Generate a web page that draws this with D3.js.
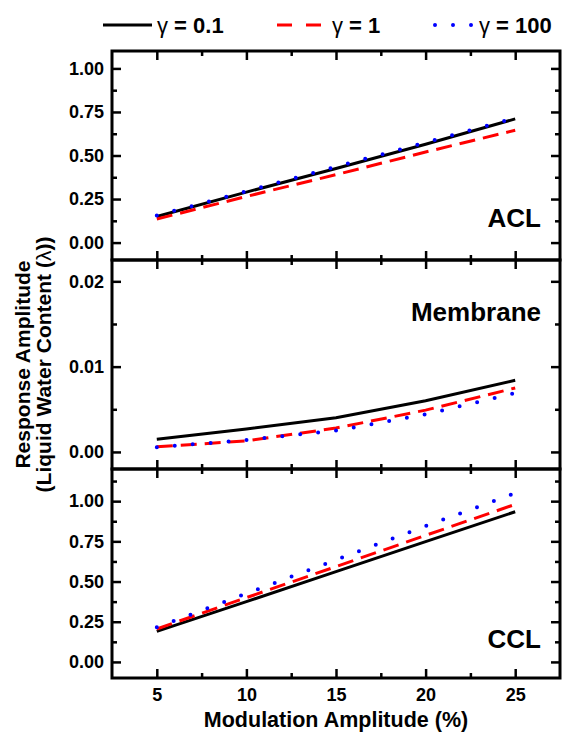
<!DOCTYPE html>
<html>
<head>
<meta charset="utf-8">
<script src="https://cdn.jsdelivr.net/npm/d3@7"></script>
<style>
body { margin: 0; background: #fff; }
text { font-family: "Liberation Sans", Arial, sans-serif; font-weight: bold; fill: #000; }
</style>
</head>
<body>
<svg id="chart" width="563" height="734"></svg>
<script>
// modulation amplitude (%) on x
var modulation = [5, 10, 15, 20, 25];

// ACL response
var aclG01  = [0.150, 0.290, 0.425, 0.565, 0.710];
var aclG1   = [0.135, 0.265, 0.390, 0.520, 0.645];
var aclG100 = [0.155, 0.295, 0.435, 0.575, 0.715];

// membrane response
var memG01  = [0.0015, 0.0027, 0.0040, 0.0060, 0.0084];
var memG1   = [0.0006, 0.0013, 0.0028, 0.0049, 0.0075];
var memG100 = [0.00055, 0.0014, 0.0025, 0.0044, 0.0069];

// CCL response
var cclG01  = [0.190, 0.375, 0.562, 0.748, 0.934];
var cclG1   = [0.205, 0.400, 0.593, 0.787, 0.980];
var cclG100 = [0.215, 0.425, 0.635, 0.845, 1.050];

var seriesNames = ["\u03b3 = 0.1", "\u03b3 = 1", "\u03b3 = 100"];
var xTicks = [5, 10, 15, 20, 25];
var xMinor = [7.5, 12.5, 17.5, 22.5];

var panels = [
  {name: "ACL", domain: [-0.1, 1.1], ticks: [0, 0.25, 0.5, 0.75, 1.0], minor: [0.125, 0.375, 0.625, 0.875],
   fmt: ".2f", data: [aclG01, aclG1, aclG100], labelY: 0.84},
  {name: "Membrane", domain: [-0.002, 0.0225], ticks: [0, 0.01, 0.02], minor: [0.005, 0.015],
   fmt: ".2f", data: [memG01, memG1, memG100], labelY: 0.29},
  {name: "CCL", domain: [-0.1, 1.2], ticks: [0, 0.25, 0.5, 0.75, 1.0], minor: [0.125, 0.375, 0.625, 0.875, 1.125],
   fmt: ".2f", data: [cclG01, cclG1, cclG100], labelY: 0.855}
];

var styles = [
  {color: "#000", width: 3, dash: null, cap: "butt"},
  {color: "#ff0000", width: 3, dash: "16,8", cap: "butt"},
  {color: "#0000ff", width: 4, dash: "0,18", cap: "round"}
];

var plotL = 112, plotR = 560, plotT = 51, plotB = 678;
var panelH = (plotB - plotT) / 3;

var svg = d3.select("#chart");

var x = d3.scaleLinear().domain([2.5, 27.5]).range([plotL, plotR]);

panels.forEach(function(p, i) {
  var y0 = plotT + i * panelH, y1 = y0 + panelH;
  var y = d3.scaleLinear().domain(p.domain).range([y1, y0]);
  var g = svg.append("g");

  // lines
  var line = d3.line()
      .x(function(d, k) { return x(modulation[k]); })
      .y(function(d) { return y(d); });
  p.data.forEach(function(vals, s) {
    var st = styles[s];
    g.append("path")
      .datum(vals)
      .attr("d", line)
      .attr("fill", "none")
      .attr("stroke", st.color)
      .attr("stroke-width", st.width)
      .attr("stroke-linecap", st.cap)
      .attr("stroke-dasharray", st.dash);
  });

  // left axis
  var la = g.append("g").attr("transform", "translate(" + plotL + ",0)")
    .call(d3.axisLeft(y).tickValues(p.ticks).tickSize(-9).tickSizeOuter(0).tickPadding(8)
      .tickFormat(d3.format(p.fmt)));
  la.selectAll("text").style("font-size", "18px");
  g.append("g").attr("transform", "translate(" + plotL + ",0)")
    .call(d3.axisLeft(y).tickValues(p.minor).tickSize(-5).tickSizeOuter(0).tickFormat(""));
  // right axis
  g.append("g").attr("transform", "translate(" + plotR + ",0)")
    .call(d3.axisRight(y).tickValues(p.ticks).tickSize(-9).tickSizeOuter(0).tickFormat(""));
  g.append("g").attr("transform", "translate(" + plotR + ",0)")
    .call(d3.axisRight(y).tickValues(p.minor).tickSize(-5).tickSizeOuter(0).tickFormat(""));
  // top and bottom ticks
  g.append("g").attr("transform", "translate(0," + y0 + ")")
    .call(d3.axisTop(x).tickValues(xTicks).tickSize(-9).tickSizeOuter(0).tickFormat(""));
  g.append("g").attr("transform", "translate(0," + y0 + ")")
    .call(d3.axisTop(x).tickValues(xMinor).tickSize(-5).tickSizeOuter(0).tickFormat(""));
  var ba = g.append("g").attr("transform", "translate(0," + y1 + ")")
    .call(d3.axisBottom(x).tickValues(xTicks).tickSize(-9).tickSizeOuter(0).tickPadding(10)
      .tickFormat(i == 2 ? d3.format("d") : ""));
  ba.selectAll("text").style("font-size", "18px");
  g.append("g").attr("transform", "translate(0," + y1 + ")")
    .call(d3.axisBottom(x).tickValues(xMinor).tickSize(-5).tickSizeOuter(0).tickFormat(""));

  g.selectAll(".domain").remove();
  g.selectAll(".tick line").attr("stroke", "#000").attr("stroke-width", 2.5);

  // frame
  g.append("rect")
    .attr("x", plotL).attr("y", y0)
    .attr("width", plotR - plotL).attr("height", panelH)
    .attr("fill", "none").attr("stroke", "#000").attr("stroke-width", 3);

  // panel label
  g.append("text")
    .attr("x", 541)
    .attr("y", y0 + p.labelY * panelH)
    .attr("text-anchor", "end")
    .style("font-size", "26px")
    .text(p.name);
});

// axis titles
svg.append("text")
  .attr("x", (plotL + plotR) / 2)
  .attr("y", 727)
  .attr("text-anchor", "middle")
  .style("font-size", "21.5px")
  .text("Modulation Amplitude (%)");

var yt = svg.append("text")
  .attr("transform", "translate(30," + ((plotT + plotB) / 2) + ") rotate(-90)")
  .attr("text-anchor", "middle")
  .style("font-size", "21px");
yt.append("tspan").attr("x", 0).attr("y", 0).text("Response Amplitude");
var t2 = yt.append("tspan").attr("x", 0).attr("y", 21).text("(Liquid Water Content (");
t2.append("tspan").style("font-weight", "normal").text("\u03bb");
t2.append("tspan").text("))");

// legend
var legendItems = [
  {x0: 103, x1: 152, tx: 157},
  {x0: 277, x1: 322, tx: 332},
  {x0: 435, x1: 472, tx: 479}
];
var legDash = [null, "15,14", "0,18"];
legendItems.forEach(function(li, s) {
  var st = styles[s];
  svg.append("line")
    .attr("x1", li.x0).attr("x2", li.x1)
    .attr("y1", 25).attr("y2", 25)
    .attr("stroke", st.color)
    .attr("stroke-width", st.width)
    .attr("stroke-linecap", st.cap)
    .attr("stroke-dasharray", legDash[s]);
  var t = svg.append("text")
    .attr("x", li.tx).attr("y", 33)
    .style("font-size", "22px");
  t.append("tspan").style("font-weight", "normal").text(seriesNames[s].charAt(0));
  t.append("tspan").text(seriesNames[s].slice(1));
});
</script>
</body>
</html>
